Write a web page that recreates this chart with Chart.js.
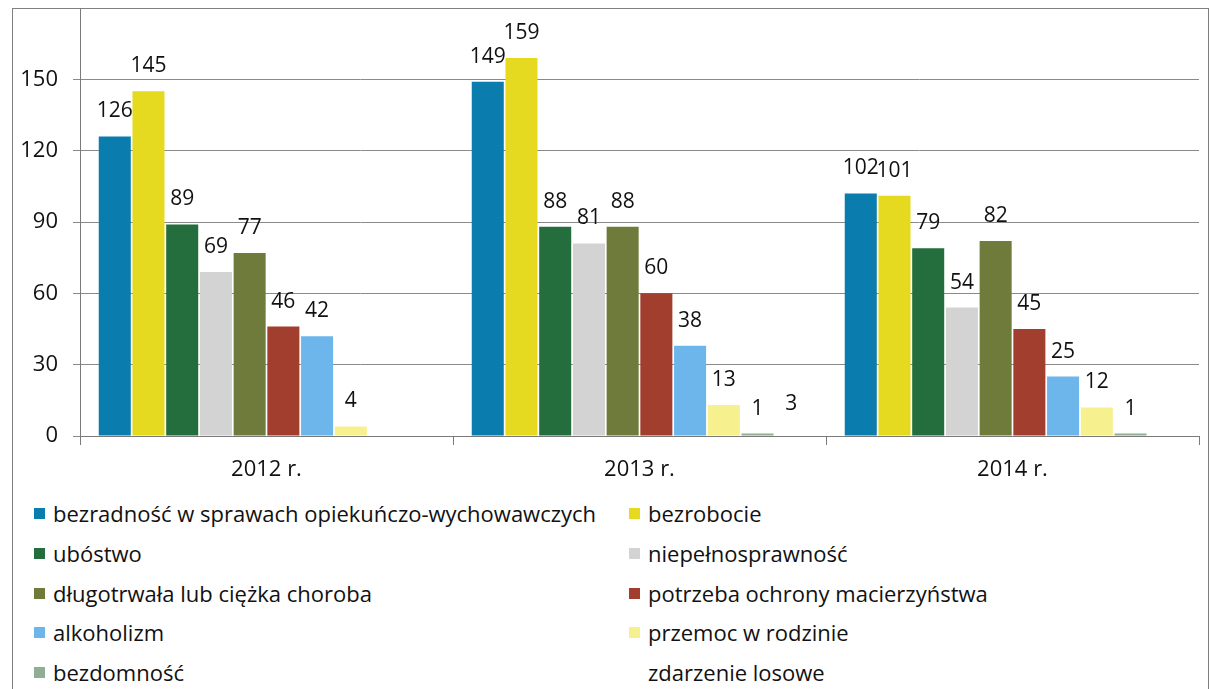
<!DOCTYPE html>
<html lang="pl">
  <head>
    <meta charset="UTF-8" />
    <title>Powody przyznania pomocy</title>
    <script src="https://cdn.jsdelivr.net/npm/chart.js"></script>
    <style>
      body { margin: 0; background: #fff; font-family: "Open Sans", sans-serif; }
      .wrap { position: relative; width: 1210px; height: 689px; overflow: hidden; }
      .frame { position: absolute; left: 12px; top: 8px; width: 1195px; height: 700px; border: 1px solid #808080; }
      #chart { position: absolute; left: 0; top: 0; }
      .legend-item { position: absolute; font-size: 22px; color: #111; line-height: 30px; white-space: nowrap; }
      .legend-item i { position: absolute; left: -19px; top: 10px; width: 11px; height: 11px; }
    </style>
  </head>
  <body>
    <div class="wrap">
      <div class="frame"></div>
      <canvas id="chart" width="1210" height="490"></canvas>
      <div id="legend"></div>
    </div>

    <script>
      // dane
      const categories = ['2012 r.', '2013 r.', '2014 r.'];
      const seriesNames = [
        'bezradność w sprawach opiekuńczo-wychowawczych',
        'bezrobocie',
        'ubóstwo',
        'niepełnosprawność',
        'długotrwała lub ciężka choroba',
        'potrzeba ochrony macierzyństwa',
        'alkoholizm',
        'przemoc w rodzinie',
        'bezdomność',
        'zdarzenie losowe'
      ];
      const bezradnosc = [126, 149, 102];
      const bezrobocie = [145, 159, 101];
      const ubostwo = [89, 88, 79];
      const niepelnosprawnosc = [69, 81, 54];
      const choroba = [77, 88, 82];
      const macierzynstwo = [46, 60, 45];
      const alkoholizm = [42, 38, 25];
      const przemoc = [4, 13, 12];
      const bezdomnosc = [null, 1, 1];
      const zdarzenie = [null, 3, null];
      const yTicks = [0, 30, 60, 90, 120, 150];

      const seriesValues = [bezradnosc, bezrobocie, ubostwo, niepelnosprawnosc, choroba,
        macierzynstwo, alkoholizm, przemoc, bezdomnosc, zdarzenie];
      const colors = ['#0b7cae', '#e5da1f', '#246e3d', '#d3d3d3', '#6f7b3b',
        '#a13e2d', '#6db6ec', '#f7f08e', '#8fae92', 'rgba(255,255,255,0)'];

      const datasets = seriesNames.map((name, i) => ({
        label: name,
        data: seriesValues[i],
        backgroundColor: colors[i],
        borderWidth: 0,
        categoryPercentage: 0.904,
        barPercentage: 0.95
      }));

      // etykiety nad słupkami
      const valueLabels = {
        id: 'valueLabels',
        afterDatasetsDraw(chart) {
          const ctx = chart.ctx;
          ctx.save();
          ctx.font = '21px "Open Sans"';
          ctx.fillStyle = '#111';
          ctx.textAlign = 'center';
          ctx.textBaseline = 'alphabetic';
          chart.data.datasets.forEach((ds, i) => {
            chart.getDatasetMeta(i).data.forEach((bar, j) => {
              const v = ds.data[j];
              if (v === null) return;
              ctx.fillText(String(v), bar.x, bar.y - 19);
            });
          });
          ctx.restore();
        }
      };

      new Chart(document.getElementById('chart'), {
        type: 'bar',
        data: { labels: categories, datasets: datasets },
        options: {
          responsive: false,
          animation: false,
          layout: { padding: { top: 8, left: 12, right: 11, bottom: 0 } },
          plugins: { legend: { display: false }, tooltip: { enabled: false } },
          scales: {
            x: {
              grid: { offset: true, drawOnChartArea: false, tickLength: 9, color: '#7a7a7a' },
              border: { color: '#7a7a7a' },
              ticks: { font: { family: 'Open Sans', size: 22 }, color: '#111', padding: 12 },
              afterFit(scale) { scale.height = 54; scale.paddingLeft = 0; scale.paddingRight = 0; }
            },
            y: {
              min: 0,
              max: 180,
              grid: { color: '#8a8a8a', tickLength: 7 },
              border: { color: '#7a7a7a' },
              ticks: { font: { family: 'Open Sans', size: 22 }, color: '#111', padding: 15 },
              afterBuildTicks(scale) { scale.ticks = yTicks.map(v => ({ value: v })); },
              afterFit(scale) { scale.width = 68; scale.paddingTop = 0; scale.paddingBottom = 0; }
            }
          }
        },
        plugins: [valueLabels]
      });

      // legenda w dwóch kolumnach
      const legend = document.getElementById('legend');
      const colX = [53, 648];
      const rowY = [498, 538, 578, 617, 657];
      seriesNames.forEach((name, i) => {
        const el = document.createElement('div');
        el.className = 'legend-item';
        el.style.left = colX[i % 2] + 'px';
        el.style.top = rowY[Math.floor(i / 2)] + 'px';
        el.innerHTML = '<i style="background:' + colors[i] + '"></i>' + name;
        legend.appendChild(el);
      });
    </script>
  </body>
</html>
